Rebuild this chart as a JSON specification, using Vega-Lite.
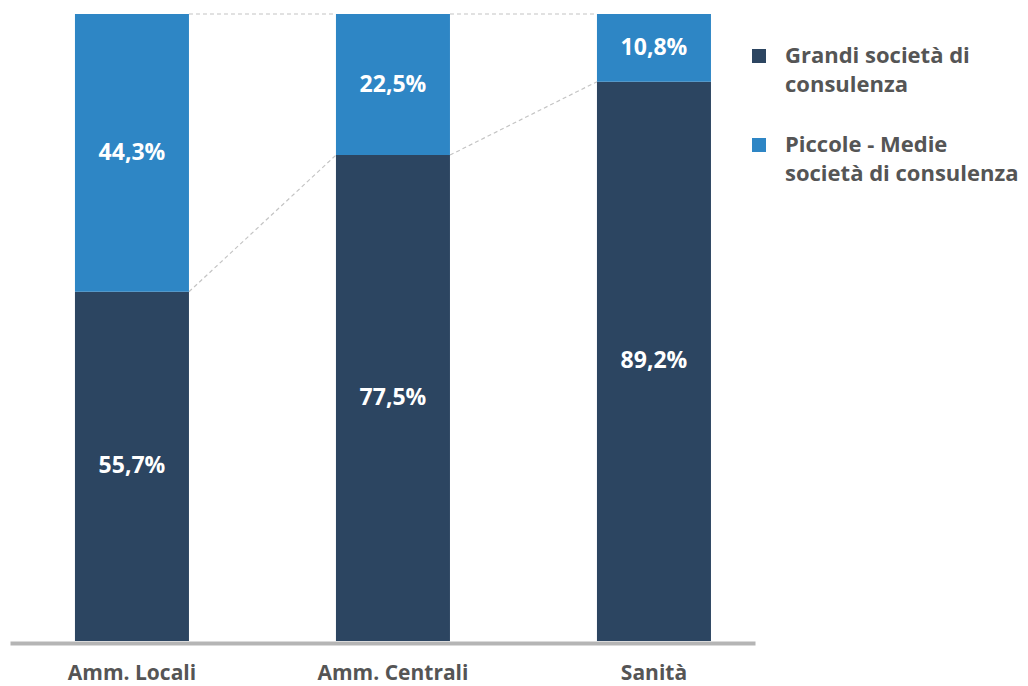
{
  "$schema": "https://vega.github.io/schema/vega-lite/v6.json",
  "width": 745,
  "height": 627,
  "padding": {"left": 10, "top": 13, "right": 0, "bottom": 0},
  "background": "white",
  "config": {
    "view": {"stroke": null},
    "font": "Open Sans",
    "locale": {"number": {"decimal": ",", "thousands": ".", "grouping": [3], "currency": ["€", ""]}},
    "style": {"guide-label": {"lineHeight": 29}}
  },
  "datasets": {
    "bars": [
      {"cat": "Amm. Locali", "series": "Grandi società di consulenza", "value": 0.557},
      {"cat": "Amm. Locali", "series": "Piccole - Medie società di consulenza", "value": 0.443},
      {"cat": "Amm. Centrali", "series": "Grandi società di consulenza", "value": 0.775},
      {"cat": "Amm. Centrali", "series": "Piccole - Medie società di consulenza", "value": 0.225},
      {"cat": "Sanità", "series": "Grandi società di consulenza", "value": 0.892},
      {"cat": "Sanità", "series": "Piccole - Medie società di consulenza", "value": 0.108}
    ],
    "links": [
      {"from": "Amm. Locali", "to": "Amm. Centrali", "y1": 1, "y2": 1},
      {"from": "Amm. Locali", "to": "Amm. Centrali", "y1": 0.557, "y2": 0.775},
      {"from": "Amm. Centrali", "to": "Sanità", "y1": 1, "y2": 1},
      {"from": "Amm. Centrali", "to": "Sanità", "y1": 0.775, "y2": 0.892}
    ]
  },
  "encoding": {
    "x": {
      "field": "cat",
      "type": "nominal",
      "sort": null,
      "scale": {"type": "band", "domain": ["Amm. Locali", "Amm. Centrali", "Sanità"], "paddingInner": 0.5632, "paddingOuter": 0.2088, "align": 0.596},
      "axis": {
        "title": null,
        "labelAngle": 0,
        "ticks": false,
        "domainColor": "#b5b5b5",
        "domainWidth": 4,
        "offset": 2,
        "labelPadding": 19,
        "labelFont": "Open Sans",
        "labelFontSize": 21,
        "labelFontWeight": "bold",
        "labelColor": "#555555",
        "labelLimit": 300
      }
    }
  },
  "layer": [
    {
      "data": {"name": "links"},
      "mark": {"type": "rule", "color": "#c4c4c4", "strokeWidth": 1.2, "strokeDash": [4, 3]},
      "encoding": {
        "x": {"field": "from", "type": "nominal", "bandPosition": 1, "sort": null},
        "x2": {"field": "to", "bandPosition": 0},
        "y": {"field": "y1", "type": "quantitative", "scale": {"domain": [0, 1], "nice": false}, "axis": null},
        "y2": {"field": "y2"}
      }
    },
    {
      "data": {"name": "bars"},
      "mark": {"type": "bar"},
      "encoding": {
        "y": {"field": "value", "type": "quantitative", "stack": "zero"},
        "order": {"field": "series", "sort": "ascending"},
        "color": {
          "field": "series",
          "type": "nominal",
          "scale": {"domain": ["Grandi società di consulenza", "Piccole - Medie società di consulenza"], "range": ["#2c4561", "#2e86c5"]},
          "legend": {
            "title": null,
            "orient": "none",
            "legendX": 738,
            "legendY": 31,
            "padding": 0,
            "symbolType": "square",
            "symbolSize": 196,
            "symbolStrokeWidth": 0,
            "labelFont": "Open Sans",
            "labelFontSize": 22,
            "labelFontWeight": "bold",
            "labelColor": "#555555",
            "labelOffset": 15,
            "labelLimit": 400,
            "labelBaseline": "middle",
            "rowPadding": 38,
            "labelExpr": "datum.value == 'Grandi società di consulenza' ? ['Grandi società di', 'consulenza'] : ['Piccole - Medie', 'società di consulenza']"
          }
        }
      }
    },
    {
      "data": {"name": "bars"},
      "mark": {"type": "text", "color": "white", "font": "Open Sans", "fontSize": 23, "fontWeight": "bold", "baseline": "middle"},
      "encoding": {
        "y": {"field": "value", "type": "quantitative", "stack": "zero", "bandPosition": 0.5},
        "order": {"field": "series", "sort": "ascending"},
        "detail": {"field": "series"},
        "text": {"field": "value", "type": "quantitative", "format": ".1%"}
      }
    }
  ]
}
